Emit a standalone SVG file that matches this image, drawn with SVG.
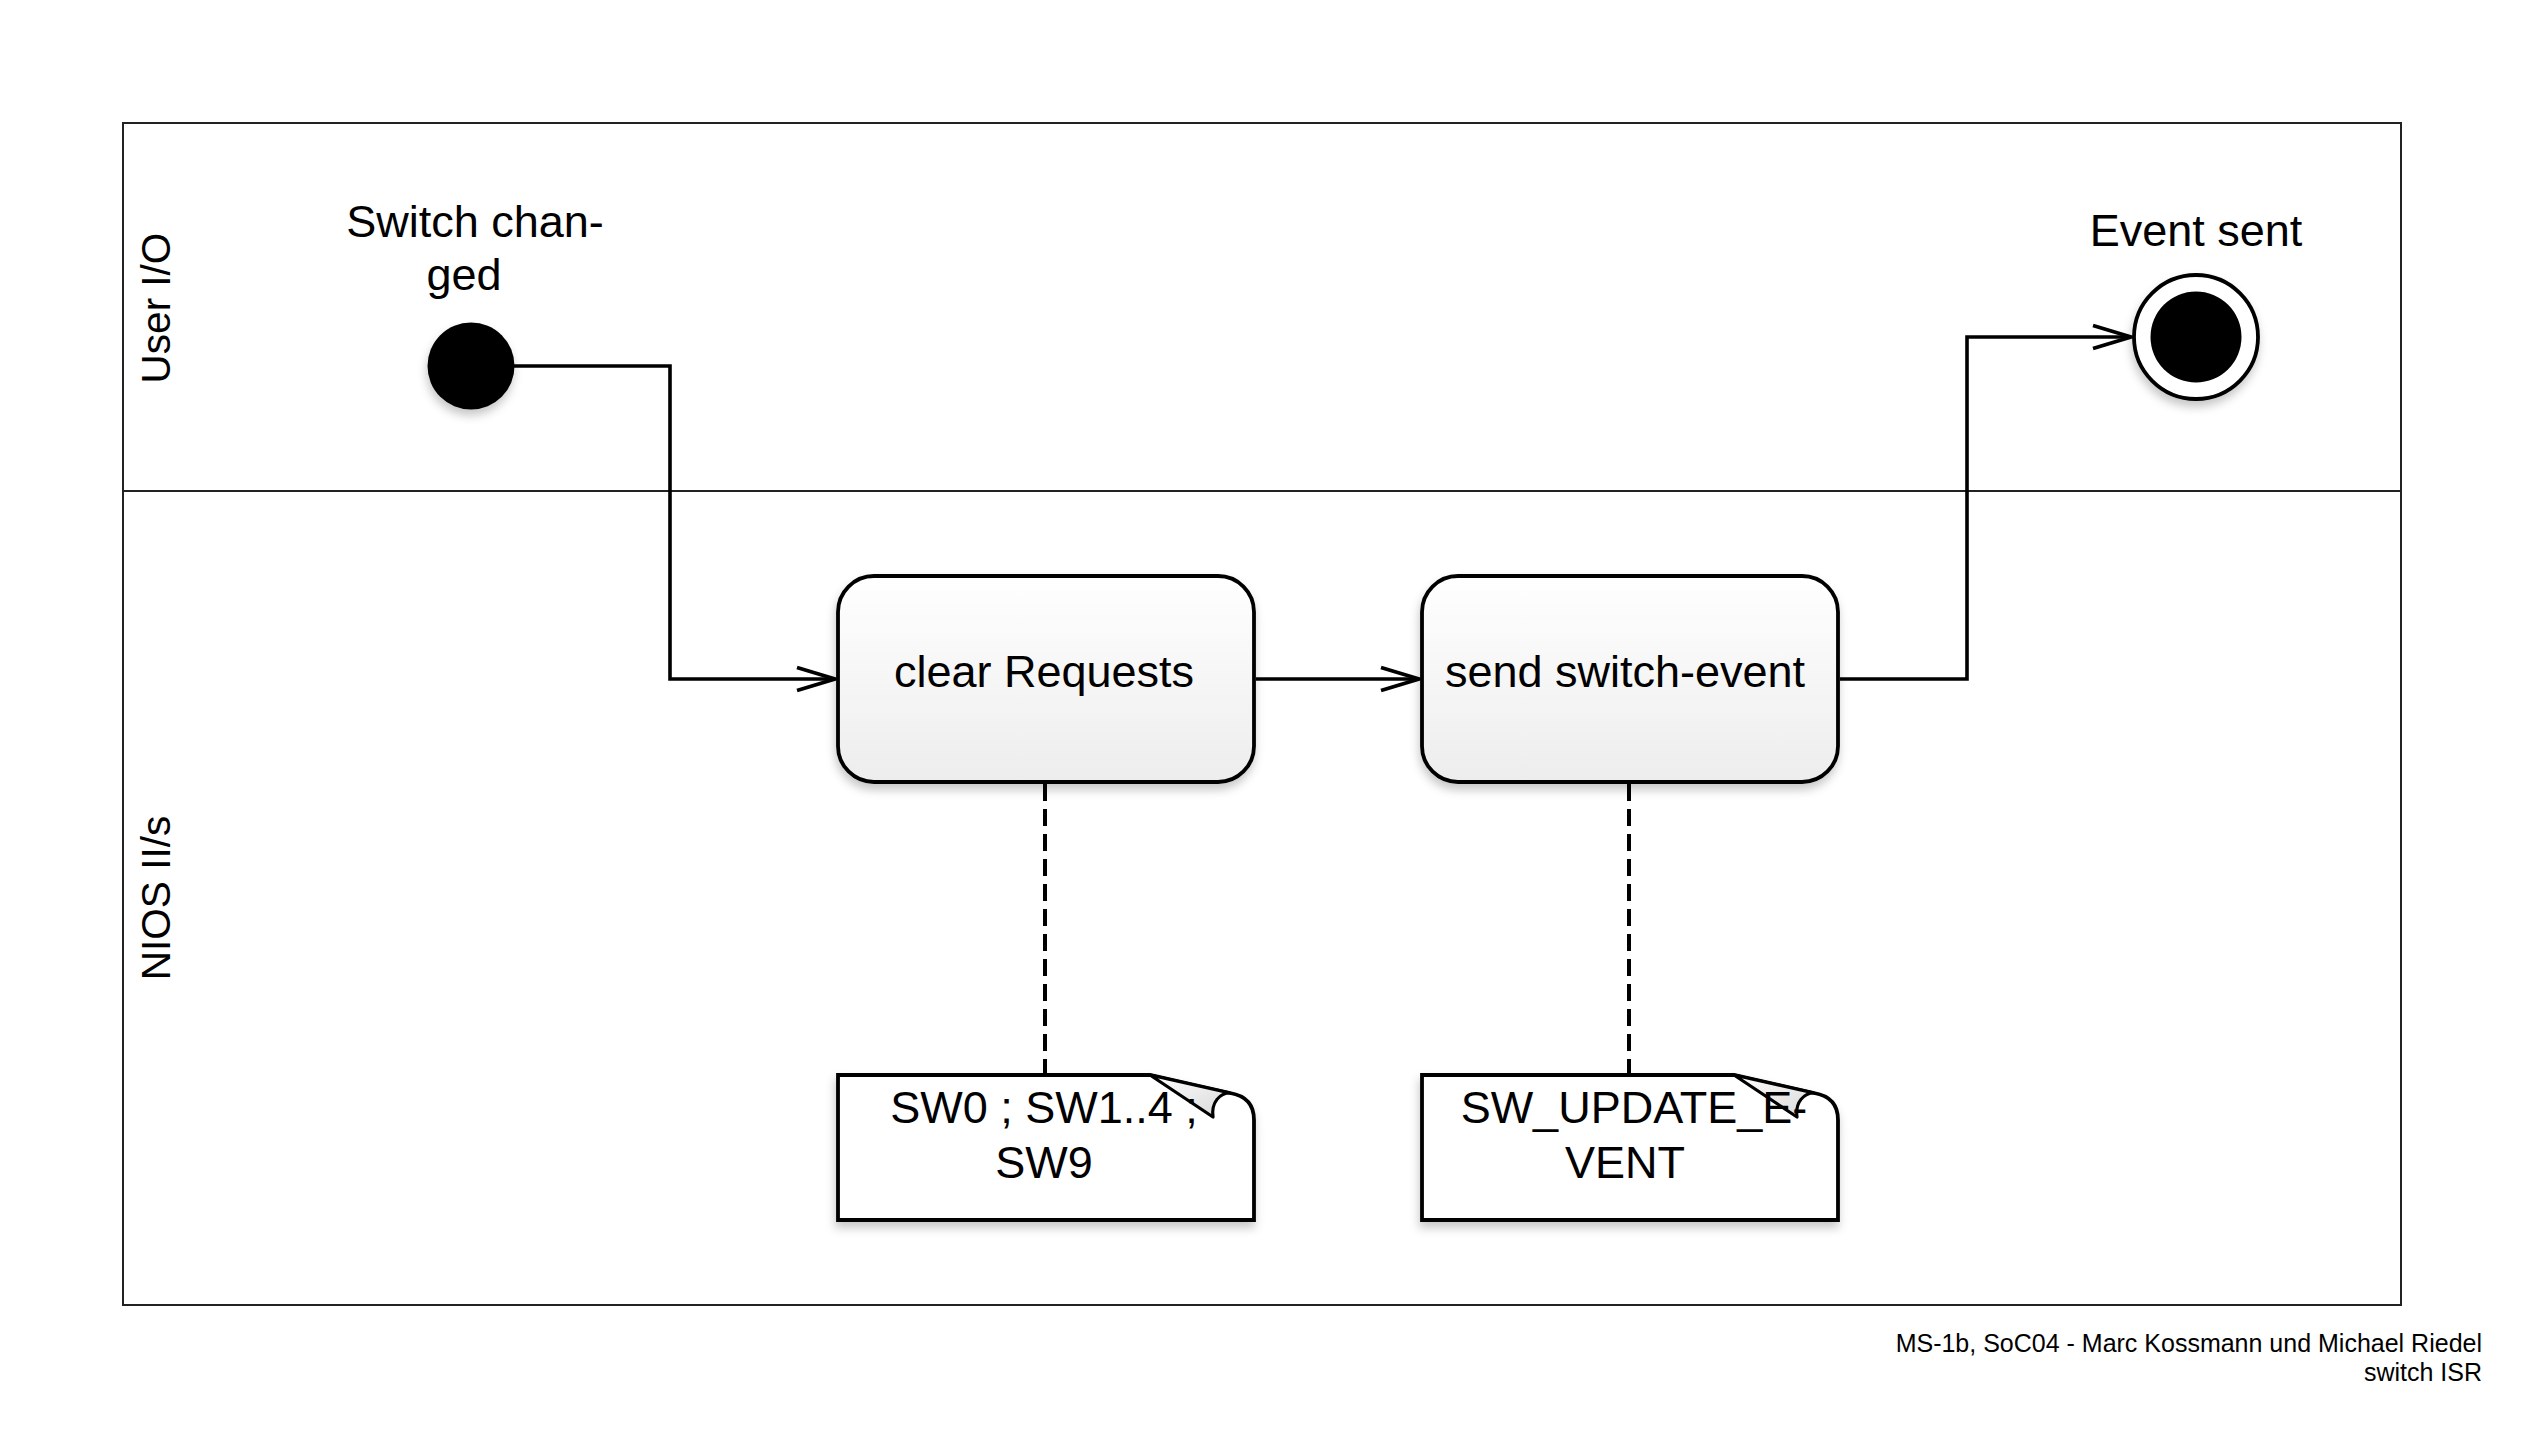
<svg xmlns="http://www.w3.org/2000/svg" width="2525" height="1429" viewBox="0 0 2525 1429">
<style>
text{font-family:"Liberation Sans",Arial,Helvetica,sans-serif;fill:#000}
.lbl{font-size:45px;text-anchor:middle}
.lane{font-size:40.5px;text-anchor:middle}
.foot{font-size:25px;text-anchor:end}
.frame{fill:none;stroke:#222;stroke-width:2}
.act{fill:url(#actGrad);stroke:#000;stroke-width:3.8}
.note{fill:#fff;stroke:#000;stroke-width:3.8;stroke-linejoin:miter}
.fold{fill:url(#foldGrad);stroke:#000;stroke-width:3.2;stroke-linejoin:round}
.flow{fill:none;stroke:#000;stroke-width:3.6;marker-end:url(#arrow)}
.anchor{fill:none;stroke:#000;stroke-width:4;stroke-dasharray:17 8}
</style>
<defs>
<linearGradient id="actGrad" x1="0" y1="0" x2="0" y2="1">
<stop offset="0" stop-color="#ffffff"/>
<stop offset="1" stop-color="#ededed"/>
</linearGradient>
<linearGradient id="foldGrad" x1="0" y1="0" x2="1" y2="1">
<stop offset="0" stop-color="#ffffff"/>
<stop offset="1" stop-color="#d8d8d8"/>
</linearGradient>
<filter id="shadow" x="-20%" y="-20%" width="140%" height="150%">
<feDropShadow dx="-1" dy="6" stdDeviation="5" flood-color="#000" flood-opacity="0.22"/>
</filter>
<marker id="arrow" markerUnits="userSpaceOnUse" markerWidth="46" markerHeight="34" viewBox="-42 -17 46 34" refX="0" refY="0" orient="auto">
<path d="M-38,-11.5 L0,0 L-38,11.5" fill="none" stroke="#000" stroke-width="3.8"/>
</marker>
</defs>
<rect x="0" y="0" width="2525" height="1429" fill="#fff"/>

<g id="pool">
<rect class="frame" x="123" y="123" width="2278" height="1182"/>
<line class="frame" x1="123" y1="491" x2="2401" y2="491"/>
</g>
<g id="lane-user-io">
<text class="lane" transform="translate(170,308) rotate(-90)">User I/O</text>
</g>
<g id="lane-nios">
<text class="lane" transform="translate(170,898) rotate(-90)">NIOS II/s</text>
</g>

<g id="connectors">
<path class="flow" d="M514,366 H670 V679 H835"/>
<path class="flow" d="M1256,679 H1419"/>
<path class="flow" d="M1840,679 H1967 V337 H2131"/>
<path class="anchor" d="M1045,784 V1074"/>
<path class="anchor" d="M1629,784 V1074"/>
</g>

<g id="start">
<circle cx="471" cy="366" r="43.5" fill="#000" filter="url(#shadow)"/>
<text class="lbl" x="475" y="237">Switch chan-</text>
<text class="lbl" x="464" y="290">ged</text>
</g>

<g id="end">
<g filter="url(#shadow)">
<circle cx="2196" cy="337" r="62" fill="#fff" stroke="#000" stroke-width="3.8"/>
</g>
<circle cx="2196" cy="337" r="45.5" fill="#000"/>
<text class="lbl" x="2196" y="246">Event sent</text>
</g>

<g id="clear-requests">
<rect class="act" x="838" y="576" width="416" height="206" rx="36" ry="36" filter="url(#shadow)"/>
<text class="lbl" x="1044" y="687">clear Requests</text>
</g>

<g id="send-switch-event">
<rect class="act" x="1422" y="576" width="416" height="206" rx="36" ry="36" filter="url(#shadow)"/>
<text class="lbl" x="1625" y="687">send switch-event</text>
</g>

<g id="note-sw">
<path class="note" filter="url(#shadow)" d="M838,1075 H1150 L1230,1093 Q1254,1097 1254,1120 V1220 H838 Z"/>
<path class="fold" d="M1150,1075 L1213,1117 C1211,1102 1220,1093 1230,1093 Z"/>
<text class="lbl" x="1044" y="1123">SW0 ; SW1..4 ;</text>
<text class="lbl" x="1044" y="1178">SW9</text>
</g>

<g id="note-event">
<path class="note" filter="url(#shadow)" d="M1422,1075 H1734 L1814,1093 Q1838,1097 1838,1120 V1220 H1422 Z"/>
<path class="fold" d="M1734,1075 L1797,1117 C1795,1102 1804,1093 1814,1093 Z"/>
<text class="lbl" x="1634" y="1123">SW_UPDATE_E-</text>
<text class="lbl" x="1625" y="1178">VENT</text>
</g>

<g id="footer">
<text class="foot" x="2482" y="1352">MS-1b, SoC04 - Marc Kossmann und Michael Riedel</text>
<text class="foot" x="2482" y="1381">switch ISR</text>
</g>
</svg>
